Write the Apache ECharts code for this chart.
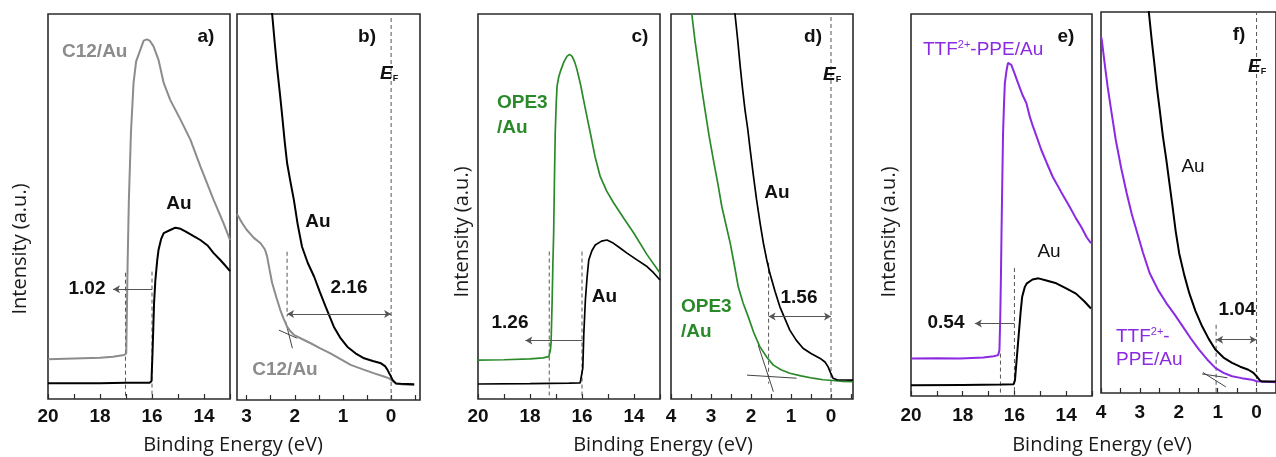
<!DOCTYPE html>
<html>
<head>
<meta charset="utf-8">
<script src="https://cdn.jsdelivr.net/npm/echarts@6.0.0/dist/echarts.min.js"></script>
<style>
  html, body { margin: 0; padding: 0; background: #fff; }
  #chart { width: 1276px; height: 457px; }
</style>
</head>
<body>
<div id="chart"></div>
<script>
// ---- Secondary-electron cutoff spectra (panels a, c, e), [binding energy eV, intensity a.u.]
const aC12 = [[20,10.3],[19,10.5],[18,10.7],[17.5,11.0],[17.07,11.4],[16.99,11.9],[16.94,34.4],[16.89,51.7],[16.81,69.1],[16.71,82.1],[16.61,87.7],[16.45,90.7],[16.32,93.1],[16.2,93.4],[16.09,93.1],[15.94,91.6],[15.75,88.1],[15.55,82.1],[15.3,77.7],[14.9,72.5],[14.52,67.3],[14.14,60.4],[13.63,51.7],[13.25,45.7],[13.0,41.3]];
const aAu  = [[20,4.1],[18,4.1],[17,4.2],[16.1,4.2],[16.02,4.6],[15.98,12],[15.92,25],[15.87,30.9],[15.8,36],[15.75,38.7],[15.65,41.5],[15.55,43.1],[15.3,43.9],[15.1,44.5],[14.9,44.2],[14.7,43.5],[14.4,42.3],[14.14,41.3],[13.85,39.8],[13.63,37.9],[13.4,36.3],[13.2,34.8],[13.0,33.2]];
const cOPE3 = [[20,10.1],[19,10.2],[18,10.4],[17.5,10.7],[17.28,11.0],[17.22,12.5],[17.19,14.5],[17.15,25],[17.12,35],[17.09,43.1],[17.06,57],[17.03,69.1],[16.99,77],[16.96,81.2],[16.9,83.5],[16.83,85.1],[16.7,87.5],[16.58,89.0],[16.48,89.5],[16.38,89.0],[16.28,87.5],[16.19,85.5],[16.05,81.5],[15.94,77.7],[15.8,73],[15.68,69.1],[15.5,63],[15.3,57.8],[15.05,54],[14.78,50.9],[14.4,47],[14.01,43.1],[13.5,37.5],[13.0,32.7]];
const cAu   = [[20,3.9],[18,4.0],[16.5,4.1],[16.07,4.2],[16.0,4.6],[15.97,8],[15.93,17],[15.87,25.7],[15.8,32],[15.74,36.1],[15.62,38.5],[15.49,40.0],[15.25,41.0],[15.04,41.3],[14.8,40.5],[14.55,39.3],[14.27,37.9],[13.9,36.2],[13.5,34.4],[13.25,32.8],[13.0,30.9]];
const eTTF = [[20,9.8],[19,9.9],[18.1,9.8],[17.2,10.1],[16.8,10.4],[16.63,10.7],[16.58,12],[16.55,20],[16.52,32],[16.5,42.6],[16.47,56],[16.44,68.8],[16.4,77],[16.37,81.9],[16.31,85],[16.25,87.2],[16.18,87.6],[16.12,86.7],[16.0,84.5],[15.86,81.9],[15.7,79],[15.54,76.7],[15.4,73],[15.28,70.5],[15.12,67.5],[14.96,64.4],[14.75,61],[14.52,57.4],[14.2,53.5],[13.87,49.6],[13.62,46.5],[13.42,44.3],[13.2,41.5],[13.04,40.0]];
const eAu  = [[20,2.8],[18,2.9],[16.5,3.0],[16.03,3.1],[15.98,4.1],[15.92,9],[15.83,16.4],[15.76,22],[15.7,26.0],[15.6,28.5],[15.52,29.5],[15.3,30.5],[15.07,30.8],[14.8,30.3],[14.38,29.5],[14.0,28.2],[13.62,26.8],[13.3,24.8],[13.04,22.9]];

// ---- Valence-band onset spectra (panels b, d, f)
const bAu  = [[2.5,104],[2.47,100],[2.42,93],[2.37,86.4],[2.31,79.5],[2.26,73.4],[2.21,67],[2.16,61.4],[2.09,56.5],[2.02,51.9],[1.94,45.5],[1.85,39.7],[1.73,35.5],[1.6,32.0],[1.48,28],[1.36,24.2],[1.19,19.0],[1.05,16.0],[0.91,13.8],[0.74,12.1],[0.56,10.8],[0.38,10.1],[0.21,9.5],[0.12,8.7],[0.075,7.8],[0.02,6.5],[-0.03,5.2],[-0.1,4.3],[-0.2,4.2],[-0.48,4.1]];
const bC12 = [[3.2,48.2],[3.1,46],[3.0,44.1],[2.85,42],[2.71,40.6],[2.62,39],[2.575,37.2],[2.52,33.5],[2.47,30.3],[2.38,26.5],[2.3,23.3],[2.23,21],[2.16,19.0],[2.09,17.8],[2.02,16.9],[1.85,15.8],[1.67,14.7],[1.47,13.4],[1.26,12.1],[1.05,10.6],[0.84,9.1],[0.6,8.0],[0.35,6.9],[0.15,6.1],[0.04,5.6],[-0.03,4.9],[-0.1,4.3],[-0.25,4.0],[-0.48,3.9]];
const dAu  = [[2.44,104],[2.4,100],[2.33,93],[2.27,86.4],[2.21,80.5],[2.15,75.1],[2.08,70],[2.02,64.7],[1.94,58],[1.86,51.7],[1.77,45.5],[1.69,40.5],[1.61,36.3],[1.53,32.7],[1.4,28],[1.28,24.0],[1.15,20.8],[1.03,17.9],[0.87,15.3],[0.7,13.2],[0.5,11.8],[0.28,10.6],[0.15,9.6],[0.075,8.4],[0.01,6.8],[-0.05,5.4],[-0.15,5.0],[-0.55,4.9]];
const dOPE3 = [[3.55,104],[3.48,100],[3.4,93],[3.31,86.4],[3.23,80.5],[3.15,75.1],[3.05,68.5],[2.94,62.1],[2.83,56],[2.73,50.0],[2.62,45],[2.52,40.5],[2.42,35],[2.32,29.2],[2.2,25],[2.07,21.4],[1.93,17.2],[1.78,13.6],[1.6,10.8],[1.44,8.8],[1.25,7.6],[1.03,6.7],[0.75,6.0],[0.45,5.4],[0.2,5.0],[-0.05,4.8],[-0.3,4.6],[-0.55,4.5]];
const fAu  = [[2.8,104],[2.77,100],[2.7,93],[2.62,85.7],[2.56,80],[2.49,74.3],[2.41,67.5],[2.32,61.2],[2.24,55],[2.16,48.9],[2.08,42.5],[1.99,36.7],[1.86,31],[1.73,26.2],[1.57,21.5],[1.4,17.5],[1.23,14.2],[1.06,11.4],[0.85,9.3],[0.63,7.9],[0.42,6.9],[0.21,6.1],[0.08,5.3],[0.0,4.4],[-0.07,3.5],[-0.13,3.0],[-0.5,3.0]];
const fTTF = [[4.0,93.5],[3.98,92.7],[3.9,86],[3.83,80.4],[3.72,73],[3.62,66.4],[3.48,59],[3.34,52.5],[3.21,47],[3.09,42.8],[2.92,36.8],[2.75,31.5],[2.53,27],[2.32,23.6],[2.1,20.5],[1.9,17.5],[1.69,14.3],[1.48,11.4],[1.27,8.8],[1.06,6.6],[0.85,5.3],[0.63,4.4],[0.38,3.9],[0.12,3.5],[0.0,3.1],[-0.05,2.8],[-0.5,2.8]];

// ---- Extracted energies (eV)
const auCutoff = 16.0;                   // Au secondary-electron cutoff
const cutoffShifts = [1.02, 1.26, 0.54]; // work-function shifts for C12, OPE3, TTF2+-PPE
const homoOnsets  = [2.16, 1.56, 1.04];  // valence onsets relative to E_F
const fermiLevel = 0;

// ---- Linear extrapolation lines used to find the onsets
const bTangents = [[[2.33,18.1],[1.95,16.0]], [[2.19,20.3],[2.05,13.4]]];
const dTangents = [[[2.10,6.2],[0.86,5.4]], [[1.82,14.0],[1.44,1.9]]];
const fTangents = [[[1.40,5.0],[0.75,4.0]], [[1.38,5.4],[0.79,1.6]]];

// ---- Tick values
const cutoffTicks = [13,14,15,16,17,18,19,20];
const cutoffLabels = [14,16,18,20];
const bTicks = [-0.5,0,0.5,1,1.5,2,2.5,3];
const bLabels = [0,1,2,3];
const vbTicks = [-0.5,0,0.5,1,1.5,2,2.5,3,3.5,4];
const vbLabels = [0,1,2,3,4];

const GRAY = '#8c8c8c', BLACK = '#000000', GREEN = '#2a8a2a', PURPLE = '#8a2be2';
const BOLD = 'Liberation Sans';
const TITLE = 'Open Sans';

const grids = [
  {left: 48,   top: 14, width: 182, height: 385},
  {left: 237,  top: 14, width: 183, height: 386},
  {left: 478,  top: 14, width: 182, height: 385},
  {left: 671,  top: 14, width: 182, height: 385},
  {left: 911,  top: 14, width: 181, height: 382},
  {left: 1101, top: 12, right: -3,  height: 381}
].map(g => Object.assign({show: true, borderColor: '#2b2b2b', borderWidth: 1.6, backgroundColor: 'transparent'}, g));

function xAx(i, min, max, labels, ticks, margin) {
  return {
    gridIndex: i, type: 'value', min, max, inverse: true,
    axisLine: {show: false}, splitLine: {show: false},
    axisTick: {inside: true, length: 5, customValues: ticks, lineStyle: {color: '#2b2b2b', width: 1.2}},
    axisLabel: {customValues: labels, margin, fontFamily: BOLD, fontWeight: 'bold', fontSize: 19, color: '#111'}
  };
}
const xAxes = [
  xAx(0, 13, 20, cutoffLabels, cutoffTicks, 8),
  xAx(1, -0.6, 3.2, bLabels, bTicks, 7),
  xAx(2, 13, 20, cutoffLabels, cutoffTicks, 8),
  xAx(3, -0.55, 4, vbLabels, vbTicks, 8),
  xAx(4, 13, 20, cutoffLabels, cutoffTicks, 10),
  xAx(5, -0.5, 4, vbLabels, vbTicks, 10)
];
const yAxes = grids.map((g, i) => ({gridIndex: i, type: 'value', min: 0, max: 100, show: false}));

function curve(i, data, color, width) {
  return {type: 'line', xAxisIndex: i, yAxisIndex: i, data, symbol: 'none', clip: true, z: 3,
          lineStyle: {color, width}};
}
function vguide(i, x, y0, y1) {
  return {type: 'line', xAxisIndex: i, yAxisIndex: i, data: [[x, y0], [x, y1]], symbol: 'none', z: 2,
          lineStyle: {color: '#555', width: 1, type: [4, 3]}};
}
function segment(i, pts) {
  return {type: 'line', xAxisIndex: i, yAxisIndex: i, data: pts, symbol: 'none', z: 2,
          lineStyle: {color: '#444', width: 1}};
}
function arrow(i, xFrom, xTo, y, both) {
  return {type: 'line', xAxisIndex: i, yAxisIndex: i, data: [], z: 2,
    markLine: {silent: true, animation: false, symbol: [both ? 'arrow' : 'none', 'arrow'], symbolSize: [6, 7],
      label: {show: false}, lineStyle: {color: '#555', width: 1, type: 'solid'},
      data: [[{coord: [xFrom, y]}, {coord: [xTo, y]}]]}};
}

const series = [
  // a) C12 cutoff
  vguide(0, auCutoff + cutoffShifts[0], 32.8, 0),
  vguide(0, auCutoff, 33.1, 0),
  arrow(0, auCutoff, 17.5, 28.5, false),
  curve(0, aC12, GRAY, 2),
  curve(0, aAu, BLACK, 2),
  // b) C12 valence
  vguide(1, fermiLevel, 0, 100),
  vguide(1, homoOnsets[0], 38.4, 21.6),
  arrow(1, homoOnsets[0], fermiLevel, 22.3, true),
  segment(1, bTangents[0]), segment(1, bTangents[1]),
  curve(1, bC12, GRAY, 2),
  curve(1, bAu, BLACK, 2),
  // c) OPE3 cutoff
  vguide(2, auCutoff + cutoffShifts[1], 38.3, 0),
  vguide(2, auCutoff, 38.3, 0),
  arrow(2, auCutoff, 18.18, 15.2, false),
  curve(2, cOPE3, GREEN, 1.7),
  curve(2, cAu, BLACK, 1.7),
  // d) OPE3 valence
  vguide(3, fermiLevel, 0, 100),
  vguide(3, homoOnsets[1], 35.4, 4),
  arrow(3, homoOnsets[1], fermiLevel, 21.4, true),
  segment(3, dTangents[0]), segment(3, dTangents[1]),
  curve(3, dOPE3, GREEN, 1.7),
  curve(3, dAu, BLACK, 1.7),
  // e) TTF2+-PPE cutoff
  vguide(4, auCutoff + cutoffShifts[2], 11.1, 0),
  vguide(4, auCutoff, 33.5, 0),
  arrow(4, auCutoff, 17.53, 19.0, false),
  curve(4, eTTF, PURPLE, 2),
  curve(4, eAu, BLACK, 2),
  // f) TTF2+-PPE valence
  vguide(5, fermiLevel, 0, 100),
  vguide(5, homoOnsets[2], 17.9, 0),
  arrow(5, homoOnsets[2], fermiLevel, 14.0, true),
  segment(5, fTangents[0]), segment(5, fTangents[1]),
  curve(5, fTTF, PURPLE, 2),
  curve(5, fAu, BLACK, 2)
];

function txt(x, y, text, o) {
  o = o || {};
  return {type: 'text', x, y, rotation: o.rot || 0, z: 10, silent: true,
    style: {text, fill: o.color || '#111', align: o.align || 'center', verticalAlign: 'middle',
      fontFamily: o.family || BOLD, fontWeight: o.weight || 'bold', fontSize: o.size || 19,
      fontStyle: o.style || 'normal', rich: o.rich}};
}
function ef(x, y) {
  return txt(x, y, '{e|E}{f|F}', {align: 'left', rich: {
    e: {fontFamily: BOLD, fontWeight: 'bold', fontStyle: 'italic', fontSize: 19, fill: '#111'},
    f: {fontFamily: BOLD, fontWeight: 'bold', fontSize: 9, fill: '#111', verticalAlign: 'bottom', padding: [10, 0, 0, 0]}}});
}
const fmt = v => v.toFixed(2);
const ttfRich = (color) => ({
  a: {fontFamily: BOLD, fontSize: 19, fill: color},
  s: {fontFamily: BOLD, fontSize: 11, fill: color, verticalAlign: 'top', padding: [0, 0, 10, 0]}
});
const titleOpts = {family: TITLE, weight: 'normal', size: 20, color: '#1a1a1a'};

const graphic = [
  // axis titles
  txt(20, 249, 'Intensity (a.u.)', Object.assign({rot: Math.PI / 2}, titleOpts)),
  txt(462, 232, 'Intensity (a.u.)', Object.assign({rot: Math.PI / 2}, titleOpts)),
  txt(889, 232, 'Intensity (a.u.)', Object.assign({rot: Math.PI / 2}, titleOpts)),
  txt(233, 445, 'Binding Energy (eV)', titleOpts),
  txt(663, 445, 'Binding Energy (eV)', titleOpts),
  txt(1102, 445, 'Binding Energy (eV)', titleOpts),
  // panel a
  txt(206, 37, 'a)'),
  txt(62, 52, 'C12/Au', {align: 'left', color: GRAY}),
  txt(179, 204, 'Au'),
  txt(87, 289, fmt(cutoffShifts[0])),
  // panel b
  txt(367, 37, 'b)'),
  ef(380, 74),
  txt(318, 222, 'Au'),
  txt(349, 288, fmt(homoOnsets[0])),
  txt(285, 370, 'C12/Au', {color: GRAY}),
  // panel c
  txt(640, 37, 'c)'),
  txt(497, 103, 'OPE3', {align: 'left', color: GREEN}),
  txt(497, 127.5, '/Au', {align: 'left', color: GREEN}),
  txt(604.5, 297, 'Au'),
  txt(510, 322.5, fmt(cutoffShifts[1])),
  // panel d
  txt(813, 37, 'd)'),
  ef(823, 75),
  txt(777, 193, 'Au'),
  txt(799, 298, fmt(homoOnsets[1])),
  txt(681, 306.7, 'OPE3', {align: 'left', color: GREEN}),
  txt(681, 331.7, '/Au', {align: 'left', color: GREEN}),
  // panel e
  txt(1066, 37, 'e)'),
  txt(923, 49.7, '{a|TTF}{s|2+}{a|-PPE/Au}', {align: 'left', rich: ttfRich(PURPLE)}),
  txt(1049, 252, 'Au', {weight: 'normal'}),
  txt(946, 322.5, fmt(cutoffShifts[2])),
  // panel f
  txt(1239, 35, 'f)'),
  ef(1248, 67),
  txt(1193, 167, 'Au', {weight: 'normal'}),
  txt(1237, 310, fmt(homoOnsets[2])),
  txt(1116, 336.7, '{a|TTF}{s|2+}{a|-}', {align: 'left', rich: ttfRich(PURPLE)}),
  txt(1116, 360, 'PPE/Au', {align: 'left', weight: 'normal', color: PURPLE})
];

const chart = echarts.init(document.getElementById('chart'), null, {renderer: 'canvas'});
chart.setOption({
  animation: false,
  backgroundColor: '#ffffff',
  grid: grids,
  xAxis: xAxes,
  yAxis: yAxes,
  series,
  graphic
});
</script>
</body>
</html>
